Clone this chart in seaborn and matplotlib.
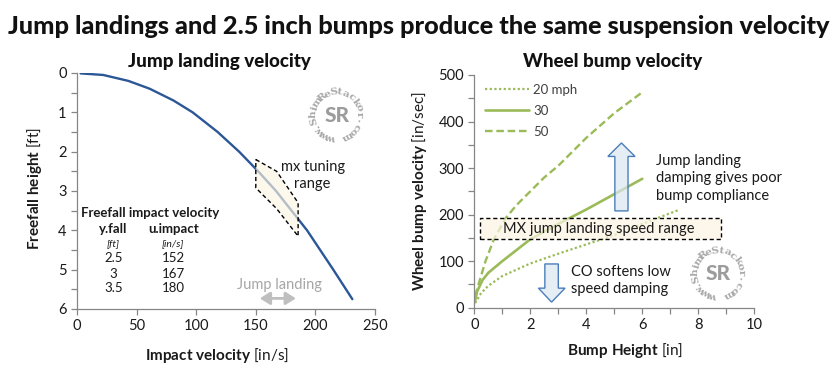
import numpy as np
import pandas as pd
import matplotlib
matplotlib.use("Agg")
import matplotlib.pyplot as plt
import seaborn as sns
from matplotlib.patches import Polygon, Rectangle, FancyArrowPatch
from matplotlib import font_manager as fm

# ---------------- data ----------------
fall_height_ft = [0.01, 0.05, 0.2, 0.4, 0.7, 1.0, 1.5, 2.0, 2.5, 3.0, 3.5, 4.0, 4.5, 5.0, 5.75]
impact_velocity = [3, 22, 43, 61, 81, 97, 118, 136, 152, 167, 180, 193, 204, 215, 231]

bump_20_x = [0.03, 0.25, 0.5, 1, 2, 3, 4, 5, 6, 7.3]
bump_20_y = [10, 32, 47, 68, 95, 116, 136, 156, 180, 210]
bump_30_x = [0.02, 0.1, 0.3, 0.5, 1, 2, 3, 4, 5, 6]
bump_30_y = [12, 35, 60, 75, 100, 147, 180, 211, 244, 277]
bump_50_x = [0.03, 0.2, 0.4, 0.7, 1.13, 1.5, 2, 2.5, 3, 4, 5, 6]
bump_50_y = [25, 60, 100, 147, 193, 220, 250, 280, 305, 365, 418, 463]
series_labels = ["20 mph", "30", "50"]

table_title = "Freefall impact velocity"
table_heads = ["y.fall", "u.impact"]
table_units = ["[ft]", "[in/s]"]
table_yfall = ["2.5", "3", "3.5"]
table_uimpact = ["152", "167", "180"]

left_xticks = [0, 50, 100, 150, 200, 250]
left_yticks = [0, 1, 2, 3, 4, 5, 6]
right_xticks = [0, 2, 4, 6, 8, 10]
right_yticks = [0, 100, 200, 300, 400, 500]

# ---------------- style ----------------
W, H = 837, 372
sns.set_theme(style="white")
names = {f.name for f in fm.fontManager.ttflist}
body = "Lato" if "Lato" in names else "DejaVu Sans"
plt.rcParams["font.family"] = [body, "DejaVu Sans"]
plt.rcParams["mathtext.fontset"] = "custom"
plt.rcParams["mathtext.rm"] = body
plt.rcParams["mathtext.bf"] = body + ":bold"
plt.rcParams["mathtext.it"] = body + ":italic"

TXT = "#1a1a1a"
SPINE = "#868686"
BLUE = "#2b5796"
GREEN = "#9bbb59"

fig = plt.figure(figsize=(W / 100, H / 100), dpi=100)
fig.patch.set_facecolor("white")

def fx(px):
    return px / W

def fy(py):
    return 1 - py / H

axL = fig.add_axes([fx(77), fy(309), fx(375) - fx(77), fy(73) - fy(309)])
axR = fig.add_axes([fx(474.3), fy(307.7), fx(754.3) - fx(474.3), fy(75) - fy(307.7)])

for ax in (axL, axR):
    ax.set_facecolor("none")
    for s in ("top", "right"):
        ax.spines[s].set_visible(False)
    for s in ("left", "bottom"):
        ax.spines[s].set_color(SPINE)
        ax.spines[s].set_linewidth(0.9)
    ax.tick_params(which="both", direction="out", length=4.5, width=0.9, color=SPINE,
                   labelsize=10.5, labelcolor=TXT, pad=3)
    ax.tick_params(axis="y", which="both", left=True)
    ax.tick_params(axis="x", which="both", bottom=True)

# ---------------- left chart ----------------
dfL = pd.DataFrame({"v": impact_velocity, "h": fall_height_ft})
sns.lineplot(data=dfL, x="v", y="h", ax=axL, color=BLUE, lw=1.7, sort=False)
axL.set_xlim(0, 250)
axL.set_ylim(6, 0)
axL.set_xticks(left_xticks)
axL.set_yticks(left_yticks)
axL.set_yticks(np.arange(0.5, 6, 1), minor=True)
axL.set_xlabel(r"$\mathbf{Impact\ velocity}$ [in/s]", fontsize=11, color=TXT)
axL.set_ylabel(r"$\mathbf{Freefall\ height}$ [ft]", fontsize=11, color=TXT)
axL.xaxis.set_label_coords(0.47, -0.155)
axL.yaxis.set_label_coords(-0.11, 0.51)
fig.text(fx(219), fy(62), "Jump landing velocity", ha="center", va="center",
         fontsize=13.5, fontweight="black", color="#111111")

# mx tuning range parallelogram
poly = Polygon([(150, 2.2), (167.5, 2.5), (185.5, 3.3), (185.5, 4.15), (167.5, 3.45), (150, 2.92)],
               closed=True, facecolor=(0.992, 0.96, 0.89, 0.65), edgecolor="black",
               linestyle=(0, (3, 2)), lw=1.0, zorder=5)
axL.add_patch(poly)
axL.text(197.7, 2.6, "mx tuning\nrange", ha="center", va="center", fontsize=10.5,
         color=TXT, linespacing=1.25)

# table
tx1, tx2 = 30.5, 80.8
axL.text(3, 3.55, table_title, ha="left", va="center", fontsize=9.5, fontweight="bold", color=TXT)
axL.text(tx1, 3.97, table_heads[0], ha="center", va="center", fontsize=9.5, fontweight="bold", color=TXT)
axL.text(tx2, 3.97, table_heads[1], ha="center", va="center", fontsize=9.5, fontweight="bold", color=TXT)
axL.text(tx1, 4.33, table_units[0], ha="center", va="center", fontsize=7.5, style="italic", color=TXT)
axL.text(tx2, 4.33, table_units[1], ha="center", va="center", fontsize=7.5, style="italic", color=TXT)
for yy, a, b in zip([4.71, 5.11, 5.47], table_yfall, table_uimpact):
    axL.text(tx1, yy, a, ha="center", va="center", fontsize=9.5, color=TXT)
    axL.text(tx2, yy, b, ha="center", va="center", fontsize=9.5, color=TXT)

# jump landing arrow
axL.text(170.3, 5.38, "Jump landing", ha="center", va="center", fontsize=10.5, color="#a6a6a6")
arr = FancyArrowPatch((151, 5.73), (186, 5.73), arrowstyle="<|-|>,head_length=4,head_width=2.5",
                      color="#bfbfbf", lw=2.0, mutation_scale=1.5)
axL.add_patch(arr)

# ---------------- right chart ----------------
sns.lineplot(x=bump_20_x, y=bump_20_y, ax=axR, color=GREEN, lw=1.6, label=series_labels[0],
             linestyle=(0, (1, 1.1)), sort=False)
sns.lineplot(x=bump_30_x, y=bump_30_y, ax=axR, color=GREEN, lw=1.9, label=series_labels[1], sort=False)
sns.lineplot(x=bump_50_x, y=bump_50_y, ax=axR, color=GREEN, lw=1.7, label=series_labels[2],
             linestyle=(0, (3.2, 1.6)), sort=False)
axR.set_xlim(0, 10)
axR.set_ylim(0, 500)
axR.set_xticks(right_xticks)
axR.set_xticks(np.arange(1, 10, 2), minor=True)
axR.set_yticks(right_yticks)
axR.set_yticks(np.arange(50, 500, 100), minor=True)
axR.set_xlabel(r"$\mathbf{Bump\ Height}$ [in]", fontsize=11, color=TXT)
axR.set_ylabel(r"$\mathbf{Wheel\ bump\ velocity}$ [in/sec]", fontsize=11, color=TXT)
axR.xaxis.set_label_coords(0.54, -0.145)
axR.yaxis.set_label_coords(-0.163, 0.50)
fig.text(fx(613), fy(62), "Wheel bump velocity", ha="center", va="center",
         fontsize=13.5, fontweight="black", color="#111111")

leg = axR.legend(loc="upper left", bbox_to_anchor=(0.02, 0.985), frameon=False, fontsize=9.5,
                 handlelength=3.3, handletextpad=0.35, labelspacing=0.68, borderaxespad=0)
for t in leg.get_texts():
    t.set_color("#404040")

# speed range box
box = Rectangle((0.2, 148), 8.6, 45, facecolor=(0.992, 0.96, 0.89, 0.7), edgecolor="black",
                linestyle=(0, (3, 2)), lw=1.0, zorder=5)
axR.add_patch(box)
axR.text(4.45, 170, "MX jump landing speed range", ha="center", va="center", fontsize=10.5,
         color=TXT, zorder=6)

ARROW_FACE = (0.86, 0.90, 0.95, 0.7)
ARROW_EDGE = "#4a7ebb"
up = Polygon([(5.02, 208), (5.49, 208), (5.49, 325), (5.74, 325), (5.255, 354), (4.77, 325), (5.02, 325)],
             closed=True, facecolor=ARROW_FACE, edgecolor=ARROW_EDGE, lw=1.0, zorder=5)
axR.add_patch(up)
down = Polygon([(2.52, 94), (3.0, 94), (3.0, 42), (3.24, 42), (2.76, 12), (2.29, 42), (2.52, 42)],
               closed=True, facecolor=ARROW_FACE, edgecolor=ARROW_EDGE, lw=1.0, zorder=5)
axR.add_patch(down)

axR.text(6.49, 278, "Jump landing\ndamping gives poor\nbump compliance", ha="left", va="center",
         fontsize=10.5, color=TXT, linespacing=1.32)
axR.text(3.44, 58, "CO softens low\nspeed damping", ha="left", va="center",
         fontsize=10.5, color=TXT, linespacing=1.32)

# ---------------- main title ----------------
fig.text(0.5, fy(27), "Jump landings and 2.5 inch bumps produce the same suspension velocity",
         ha="center", va="center", fontsize=18.2, fontweight="black", color="#111111")

# ---------------- watermarks ----------------
def watermark(cx, cy, r):
    txt = "www.ShimReStackor.com"
    a0, a1 = 258.0, -62.0
    angs = np.linspace(a0, a1, len(txt))
    for ch, a in zip(txt, angs):
        ar = np.deg2rad(a)
        px = cx + r * np.cos(ar)
        py = cy - r * np.sin(ar)
        fig.text(fx(px), fy(py), ch, ha="center", va="center", rotation=a - 90,
                 fontsize=7.5, color="#a8a8a8", family="DejaVu Serif", fontweight="bold",
                 rotation_mode="anchor")
    fig.text(fx(cx), fy(cy), "SR", ha="center", va="center", fontsize=15,
             color="#9c9c9c", fontweight="black", family=body)

watermark(336.7, 115, 23)
watermark(718.3, 273.3, 23)

fig.savefig("out.png", dpi=100, facecolor="white")
